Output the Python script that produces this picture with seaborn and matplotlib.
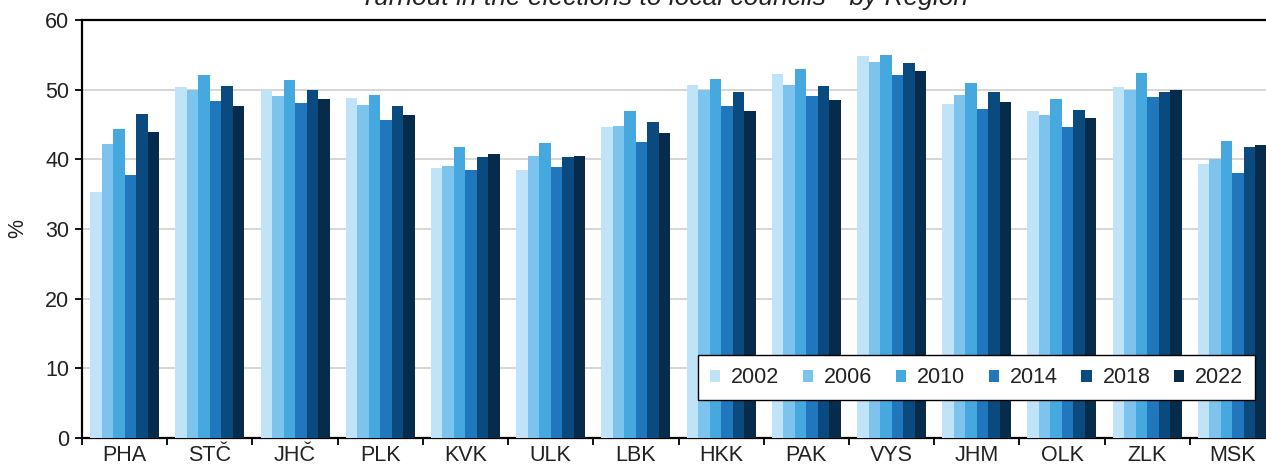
import matplotlib
matplotlib.use("Agg")
import matplotlib.pyplot as plt
import pandas as pd
import numpy as np
import seaborn as sns
from matplotlib.ticker import FixedLocator, NullFormatter

regions = ["PHA", "STČ", "JHČ", "PLK", "KVK", "ULK", "LBK",
           "HKK", "PAK", "VYS", "JHM", "OLK", "ZLK", "MSK"]
years = ["2002", "2006", "2010", "2014", "2018", "2022"]

t2002 = [35.3, 50.4, 50.0, 48.8, 38.8, 38.5, 44.7, 50.6, 52.3, 54.8, 48.0, 46.9, 50.4, 39.3]
t2006 = [42.2, 49.9, 49.1, 47.8, 39.1, 40.5, 44.8, 50.0, 50.6, 54.0, 49.2, 46.4, 49.9, 40.1]
t2010 = [44.4, 52.1, 51.4, 49.2, 41.7, 42.4, 46.9, 51.6, 53.0, 55.0, 50.9, 48.7, 52.4, 42.7]
t2014 = [37.7, 48.4, 48.1, 45.7, 38.5, 38.9, 42.5, 47.7, 49.1, 52.1, 47.2, 44.7, 49.0, 38.1]
t2018 = [46.5, 50.5, 49.9, 47.7, 40.3, 40.3, 45.4, 49.6, 50.5, 53.8, 49.7, 47.1, 49.7, 41.7]
t2022 = [43.9, 47.6, 48.7, 46.3, 40.8, 40.5, 43.8, 47.0, 48.5, 52.7, 48.3, 46.0, 49.9, 42.0]

colors = ["#bfe3f8", "#7cc4ee", "#45a8df", "#2077be", "#0a4a7e", "#072b4a"]

df = pd.DataFrame({"region": regions * 6,
                   "year": [y for y in years for _ in regions],
                   "turnout": t2002 + t2006 + t2010 + t2014 + t2018 + t2022})

sns.set_style("white")
plt.rcParams["font.family"] = ["Liberation Sans", "DejaVu Sans"]

fs = 15.5
fig = plt.figure(figsize=(12.66, 4.71), dpi=100)
ax = fig.add_axes([82 / 1266, 1 - 438 / 471, (1275 - 82) / 1266, (438 - 20) / 471])

sns.barplot(data=df, x="region", y="turnout", hue="year", hue_order=years,
            order=regions, palette=colors, width=0.81, saturation=1,
            linewidth=0, ax=ax, zorder=3)

ax.set_ylim(0, 60)
ax.set_xlim(-0.5, len(regions) - 0.5)
ax.set_yticks(range(0, 61, 10))
ax.yaxis.grid(True, color="#cccccc", linewidth=1.1, zorder=0)
ax.set_axisbelow(True)
ax.tick_params(axis="y", direction="out", length=5, width=1.3, color="black",
               labelsize=fs, labelcolor="#222222", left=True, pad=4)
ax.tick_params(axis="x", which="major", length=0, labelsize=fs, labelcolor="#222222", pad=5)
ax.xaxis.set_minor_locator(FixedLocator(np.arange(-0.5, len(regions), 1)))
ax.xaxis.set_minor_formatter(NullFormatter())
ax.tick_params(axis="x", which="minor", direction="out", length=5, width=1.3,
               color="black", bottom=True)
ax.set_xlabel("")
ax.set_ylabel("%", fontsize=fs, color="#222222", labelpad=12)

for side in ["left", "bottom", "top", "right"]:
    ax.spines[side].set_visible(True)
    ax.spines[side].set_color("black")
    ax.spines[side].set_linewidth(1.6)

handles, labels = ax.get_legend_handles_labels()
leg = ax.legend(handles, labels, loc="lower right",
                bbox_to_anchor=((1255 - 82) / (1275 - 82), (438 - 400) / 418),
                borderaxespad=0, ncol=6, fontsize=fs, frameon=True, fancybox=False,
                framealpha=1, edgecolor="black", handlelength=0.48, handleheight=0.48,
                handletextpad=0.5, columnspacing=1.1, borderpad=0.55)
leg.get_frame().set_linewidth(1.0)
for t in leg.get_texts():
    t.set_color("#222222")

fig.text(664 / 1266, 1 - 5 / 471, "Turnout in the elections to local councils - by Region",
         ha="center", va="baseline", fontsize=19, style="italic", color="#222222")

fig.savefig("out.png", dpi=100)
